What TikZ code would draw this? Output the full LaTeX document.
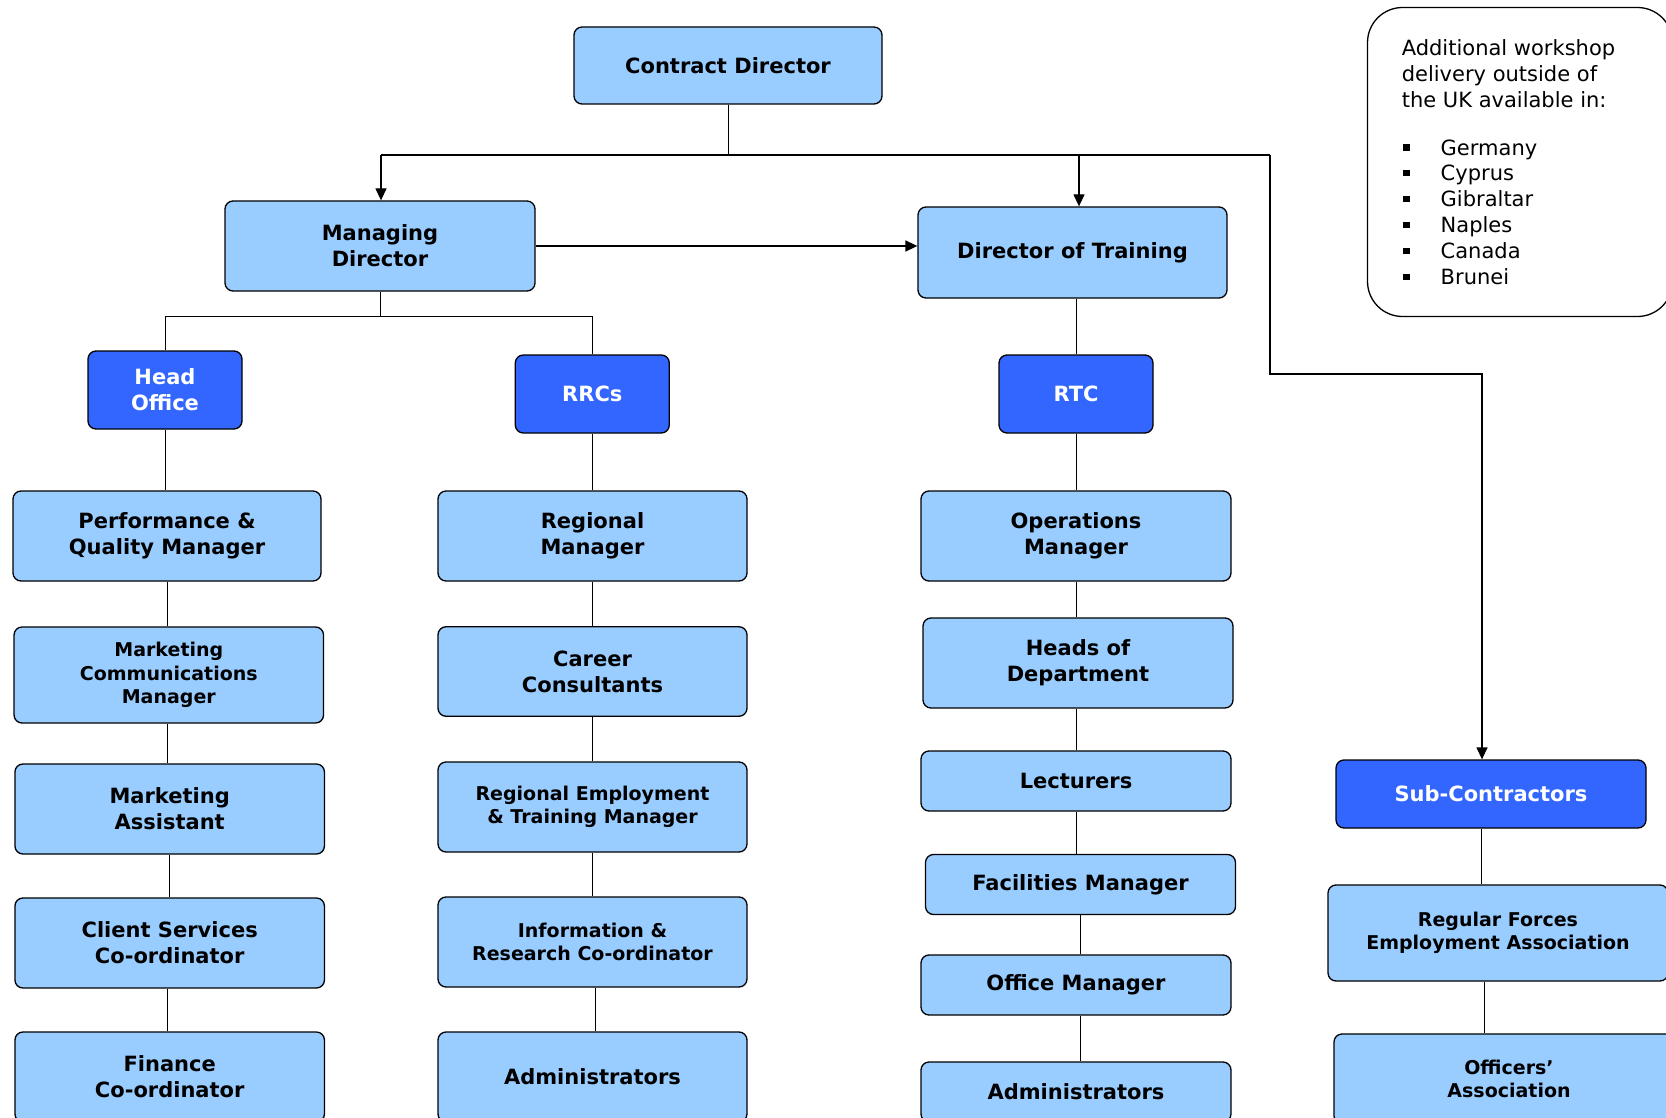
\documentclass[tikz,border=0pt]{standalone}
\usepackage{fontspec}
\setmainfont{DejaVu Sans}
\usetikzlibrary{arrows.meta}
\definecolor{lb}{HTML}{99CCFF}
\definecolor{db}{HTML}{3366FF}
\newcommand\bulitem{\makebox[37.5pt][l]{\rule[4.5pt]{6.5pt}{6.5pt}}}
\tikzset{
  box/.style={draw=black, line width=1.3pt, rounded corners=8pt, fill=lb, inner sep=0pt,
    align=center, font=\bfseries\fontsize{21}{26}\selectfont},
  dbox/.style={box, fill=db, text=white},
  small/.style={font=\bfseries\fontsize{19}{23.5}\selectfont},
  link/.style={line width=1pt},
  arr/.style={line width=1.3pt, -{Triangle[length=12pt,width=11pt]}},
  infotxt/.style={inner sep=0pt, anchor=base west, align=left, font=\fontsize{21}{25.9}\selectfont},
}
\begin{document}
\begin{tikzpicture}[x=1pt,y=-1pt]
\useasboundingbox (0,0) rectangle (1666,1118);
\clip (0,0) rectangle (1666,1118);
\fill[white] (0,0) rectangle (1666,1118);

% top level
\node[box, minimum width=308pt, minimum height=77pt] (cd) at (728,65.5) {Contract Director};
\node[box, minimum width=310pt, minimum height=90pt] (md) at (380,246) {Managing\\Director};
\node[box, minimum width=309pt, minimum height=91pt] (dot) at (1072.5,252.5) {Director of Training};

% second level (dark)
\node[dbox, minimum width=154pt, minimum height=78pt] (ho) at (165,390) {Head\\Office};
\node[dbox, minimum width=154pt, minimum height=78pt] (rrc) at (592.3,394) {RRCs};
\node[dbox, minimum width=154pt, minimum height=78pt] (rtc) at (1076,394) {RTC};
\node[dbox, minimum width=310pt, minimum height=68pt] (sub) at (1491,794) {Sub-Contractors};

% column 1
\node[box, minimum width=308pt, minimum height=90pt] (perf) at (167,536) {Performance \&\\Quality Manager};
\node[box, small, minimum width=309.5pt, minimum height=96pt] (mcm) at (168.8,675) {Marketing\\Communications\\Manager};
\node[box, minimum width=309.5pt, minimum height=90pt] (ma) at (169.7,809) {Marketing\\Assistant};
\node[box, minimum width=309.5pt, minimum height=90pt] (csc) at (169.7,943) {Client Services\\Co-ordinator};
\node[box, minimum width=309.5pt, minimum height=90pt] (fin) at (169.7,1077) {Finance\\Co-ordinator};

% column 2
\node[box, minimum width=309pt, minimum height=90pt] (rm) at (592.5,536) {Regional\\Manager};
\node[box, minimum width=309pt, minimum height=89.5pt] (cc) at (592.5,671.5) {Career\\Consultants};
\node[box, small, minimum width=309pt, minimum height=90pt] (retm) at (592.5,807) {Regional Employment\\\& Training Manager};
\node[box, small, minimum width=309pt, minimum height=90pt] (irc) at (592.5,942) {Information \&\\Research Co-ordinator};
\node[box, minimum width=309pt, minimum height=90pt] (adm2) at (592.5,1077) {Administrators};

% column 3
\node[box, minimum width=310pt, minimum height=90pt] (ops) at (1076,536) {Operations\\Manager};
\node[box, minimum width=310pt, minimum height=90pt] (hod) at (1078,663) {Heads of\\Department};
\node[box, minimum width=310pt, minimum height=60pt] (lec) at (1076,781) {Lecturers};
\node[box, minimum width=310pt, minimum height=60pt] (fac) at (1080.5,884.5) {Facilities Manager};
\node[box, minimum width=310pt, minimum height=60pt] (om) at (1076,985) {Office Manager};
\node[box, minimum width=310pt, minimum height=60pt] (adm3) at (1076,1092) {Administrators};

% column 4
\node[box, small, minimum width=340pt, minimum height=96pt] (rfea) at (1498,933) {Regular Forces\\Employment Association};
\node[box, small, minimum width=350pt, minimum height=90pt] (oa) at (1509,1079) {Officers’\\Association};

% info box
\node[draw=black, line width=1.3pt, rounded corners=35pt, minimum width=305pt, minimum height=309pt, inner sep=0pt] (info) at (1520,162) {};
\node[infotxt] (infohead) at (1401.6,107.3) {Additional workshop\\delivery outside of\\the UK available in:};
\node[infotxt] (infolist) at (1403,284.5) {\bulitem Germany\\\bulitem Cyprus\\\bulitem Gibraltar\\\bulitem Naples\\\bulitem Canada\\\bulitem Brunei};

% connectors from the top
\coordinate (busL) at (381,155);
\coordinate (busR) at (1270,155);
\coordinate (bend) at (1270,374);
\draw[link] (cd.south) -- (cd.south |- busL);
\draw[link, line width=1.3pt] (busL) -- (busR);
\draw[arr] (busL) -- (busL |- md.north);
\draw[arr] ([xshift=6.5pt]dot.north |- busL) -- ([xshift=6.5pt]dot.north);
\draw[arr] (busR) -- (bend) -| ([xshift=-9pt]sub.north);
\draw[arr, line width=1.6pt] (md.east) -- (md.east -| dot.west);

% managing director to head office and RRCs
\coordinate (bus2) at (380,316);
\draw[link] (md.south) -- (md.south |- bus2);
\draw[link] (ho.north) -- (ho.north |- bus2) -- (rrc.north |- bus2) -- (rrc.north);
\draw[link] (dot.south -| rtc.north) -- (rtc.north);

% column 1 chain
\draw[link] (ho.south) -- (ho.south |- perf.north);
\draw[link] (perf.south) -- (perf.south |- mcm.north);
\draw[link] (mcm.south -| perf.south) -- (perf.south |- ma.north);
\draw[link] (ma.south) -- (ma.south |- csc.north);
\draw[link] ([xshift=-2pt]csc.south) -- ([xshift=-2pt]csc.south |- fin.north);

% column 2 chain
\draw[link] (rrc.south) -- (rrc.south |- rm.north);
\draw[link] (rm.south) -- (rm.south |- cc.north);
\draw[link] (cc.south) -- (cc.south |- retm.north);
\draw[link] (retm.south) -- (retm.south |- irc.north);
\draw[link] ([xshift=3pt]irc.south) -- ([xshift=3pt]irc.south |- adm2.north);

% column 3 chain
\draw[link] (rtc.south) -- (rtc.south |- ops.north);
\draw[link] (ops.south) -- (ops.south |- hod.north);
\draw[link] (hod.south -| ops.south) -- (ops.south |- lec.north);
\draw[link] (lec.south) -- (lec.south |- fac.north);
\draw[link] (fac.south) -- (fac.south |- om.north);
\draw[link] (om.south -| fac.south) -- (fac.south |- adm3.north);

% column 4 chain
\draw[link] ([xshift=-10pt]sub.south) -- ([xshift=-10pt]sub.south |- rfea.north);
\draw[link] ([xshift=-14pt]rfea.south) -- ([xshift=-14pt]rfea.south |- oa.north);
\end{tikzpicture}
\end{document}
